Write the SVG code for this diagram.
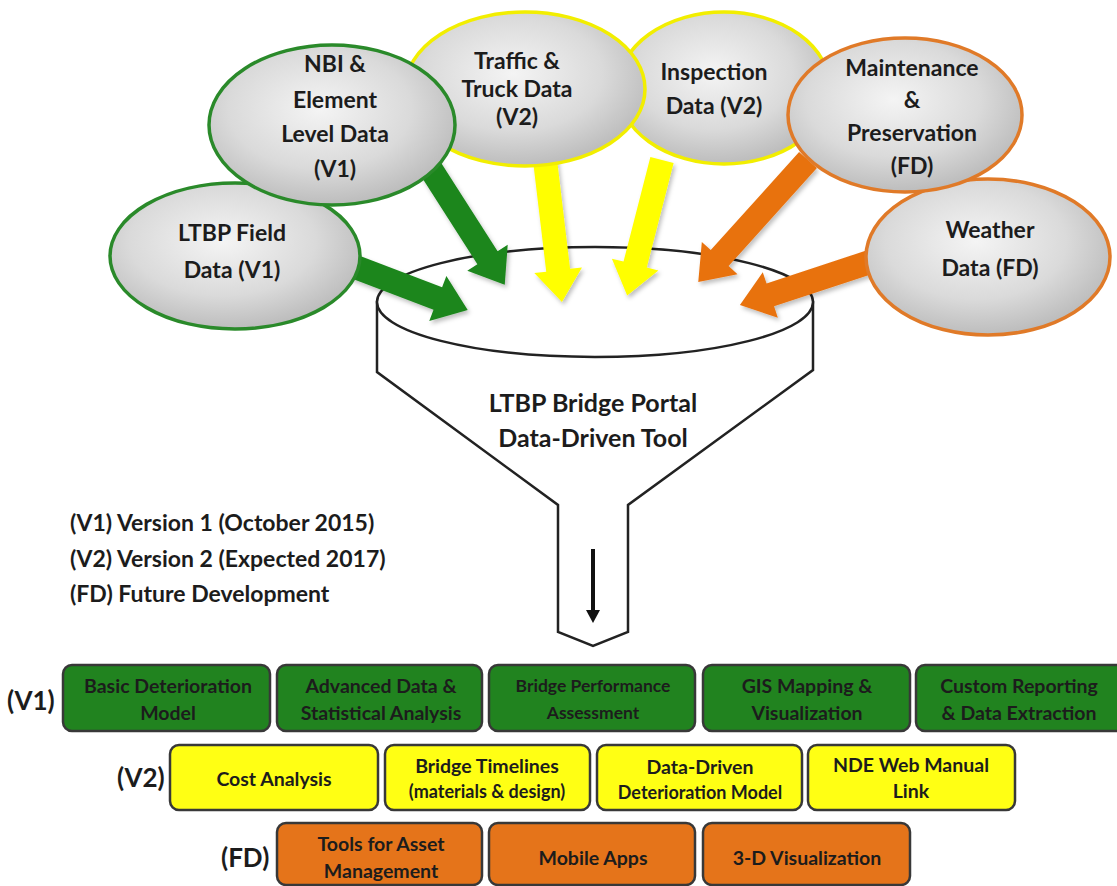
<svg xmlns="http://www.w3.org/2000/svg" width="1117" height="886" viewBox="0 0 1117 886">
<defs>
<radialGradient id="gray" cx="45%" cy="40%" r="62%">
<stop offset="0" stop-color="#f4f4f4"/>
<stop offset="0.6" stop-color="#dadada"/>
<stop offset="1" stop-color="#bababa"/>
</radialGradient>
<filter id="sh" x="-20%" y="-20%" width="140%" height="140%">
<feDropShadow dx="2" dy="3" stdDeviation="2" flood-color="#000" flood-opacity="0.25"/>
</filter>
</defs>
<style>
text{font-family:Lato,"Open Sans","Liberation Sans",sans-serif;font-weight:bold;fill:#1c1c1c;text-anchor:middle}
.el{fill:url(#gray);stroke-width:3.5}
.g{stroke:#2a8a2a}.y{stroke:#f2ee00}.o{stroke:#e07a28}
.et{font-size:23px}
.ag{fill:#1b861b}.ay{fill:#ffff00}.ao{fill:#e8720e}
.box{stroke:#383838;stroke-width:2.5}
.bg{fill:#21831f}.by{fill:#ffff14}.bo{fill:#e5741a}
.bt{font-size:19.5px}
.lab{font-size:26px;text-anchor:start}
.leg{font-size:23px;text-anchor:start}
.fun{fill:#fff;stroke:#222;stroke-width:2.5}
</style>

<g id="funnel">
<path class="fun" d="M377,302 L377,372 L558,505 L558,632 L593,646 L628,632 L628,505 L813,370 L813,302 Z"/>
<ellipse class="fun" cx="595" cy="302" rx="218" ry="55"/>
<text x="593" y="412" style="font-size:25px">LTBP Bridge Portal</text>
<text x="593" y="447" style="font-size:25px">Data-Driven Tool</text>
<line x1="593" y1="549" x2="593" y2="612" stroke="#111" stroke-width="4"/>
<polygon points="586,610 600,610 593,623" fill="#111"/>
</g>

<g id="connectors" filter="url(#sh)">
<path class="ag" transform="translate(350,265) rotate(20.9)" d="M0,-12 H94 V-24 L126,0 L94,24 V12 H0 Z"/>
<path class="ag" transform="translate(425,160) rotate(57.4)" d="M0,-12 H116 V-24 L148,0 L116,24 V12 H0 Z"/>
<path class="ay" transform="translate(545,160) rotate(83.2)" d="M0,-12 H111 V-24 L143,0 L111,24 V12 H0 Z"/>
<path class="ay" transform="translate(662,160) rotate(104.4)" d="M0,-12 H108 V-24 L140,0 L108,24 V12 H0 Z"/>
<path class="ao" transform="translate(808,160) rotate(132)" d="M0,-12 H132 V-24 L164,0 L132,24 V12 H0 Z"/>
<path class="ao" transform="translate(870,262) rotate(161.7)" d="M0,-12 H105 V-24 L137,0 L105,24 V12 H0 Z"/>
</g>

<g id="inspection">
<ellipse class="el y" cx="724" cy="88" rx="106" ry="76"/>
<text class="et" x="714" y="80">Inspection</text>
<text class="et" x="714" y="114">Data (V2)</text>
</g>
<g id="traffic">
<ellipse class="el y" cx="525" cy="89" rx="120" ry="77"/>
<text class="et" x="517" y="69">Traffic &amp;</text>
<text class="et" x="517" y="97">Truck Data</text>
<text class="et" x="517" y="125">(V2)</text>
</g>
<g id="weather">
<ellipse class="el o" cx="988" cy="257" rx="122" ry="78"/>
<text class="et" x="990" y="238">Weather</text>
<text class="et" x="990" y="276">Data (FD)</text>
</g>
<g id="maintenance">
<ellipse class="el o" cx="905" cy="115" rx="117" ry="77"/>
<text class="et" x="912" y="76">Maintenance</text>
<text class="et" x="912" y="108">&amp;</text>
<text class="et" x="912" y="141">Preservation</text>
<text class="et" x="912" y="174">(FD)</text>
</g>
<g id="ltbp-field">
<ellipse class="el g" cx="235" cy="256" rx="125" ry="73"/>
<text class="et" x="232" y="241">LTBP Field</text>
<text class="et" x="232" y="278">Data (V1)</text>
</g>
<g id="nbi">
<ellipse class="el g" cx="332" cy="125" rx="123" ry="80"/>
<text class="et" x="335" y="72">NBI &amp;</text>
<text class="et" x="335" y="108">Element</text>
<text class="et" x="335" y="142">Level Data</text>
<text class="et" x="335" y="177">(V1)</text>
</g>

<g id="legend">
<text class="leg" x="70" y="531">(V1) Version 1 (October 2015)</text>
<text class="leg" x="70" y="567">(V2) Version 2 (Expected 2017)</text>
<text class="leg" x="70" y="602">(FD) Future Development</text>
</g>

<g id="row-v1">
<text class="lab" x="7" y="710">(V1)</text>
<g id="v1-basic"><rect class="box bg" x="63" y="665" width="207" height="66" rx="9"/><text class="bt" x="168" y="693">Basic Deterioration</text><text class="bt" x="168" y="720">Model</text></g>
<g id="v1-advanced"><rect class="box bg" x="277" y="665" width="205" height="66" rx="9"/><text class="bt" x="381" y="693">Advanced Data &amp;</text><text class="bt" x="381" y="720">Statistical Analysis</text></g>
<g id="v1-performance"><rect class="box bg" x="489" y="665" width="206" height="66" rx="9"/><text class="bt" x="593" y="692" style="font-size:17.5px">Bridge Performance</text><text class="bt" x="593" y="719" style="font-size:17.5px">Assessment</text></g>
<g id="v1-gis"><rect class="box bg" x="703" y="665" width="207" height="66" rx="9"/><text class="bt" x="807" y="693">GIS Mapping &amp;</text><text class="bt" x="807" y="720">Visualization</text></g>
<g id="v1-custom"><rect class="box bg" x="916" y="665" width="212" height="66" rx="9"/><text class="bt" x="1019" y="693">Custom Reporting</text><text class="bt" x="1019" y="720">&amp; Data Extraction</text></g>
</g>

<g id="row-v2">
<text class="lab" x="117" y="787">(V2)</text>
<g id="v2-cost"><rect class="box by" x="170" y="745" width="208" height="65" rx="9"/><text class="bt" x="274" y="786">Cost Analysis</text></g>
<g id="v2-timelines"><rect class="box by" x="385" y="745" width="205" height="65" rx="9"/><text class="bt" x="487" y="773">Bridge Timelines</text><text class="bt" x="487" y="798" style="font-size:18px">(materials &amp; design)</text></g>
<g id="v2-datadriven"><rect class="box by" x="597" y="745" width="205" height="65" rx="9"/><text class="bt" x="700" y="774">Data-Driven</text><text class="bt" x="700" y="799" style="font-size:18px">Deterioration Model</text></g>
<g id="v2-nde"><rect class="box by" x="808" y="745" width="207" height="65" rx="9"/><text class="bt" x="911" y="772">NDE Web Manual</text><text class="bt" x="911" y="798">Link</text></g>
</g>

<g id="row-fd">
<text class="lab" x="221" y="867">(FD)</text>
<g id="fd-tools"><rect class="box bo" x="277" y="823" width="205" height="62" rx="9"/><text class="bt" x="381" y="851">Tools for Asset</text><text class="bt" x="381" y="878">Management</text></g>
<g id="fd-mobile"><rect class="box bo" x="489" y="823" width="206" height="62" rx="9"/><text class="bt" x="593" y="865">Mobile Apps</text></g>
<g id="fd-3d"><rect class="box bo" x="703" y="823" width="207" height="62" rx="9"/><text class="bt" x="807" y="865">3-D Visualization</text></g>
</g>
</svg>
